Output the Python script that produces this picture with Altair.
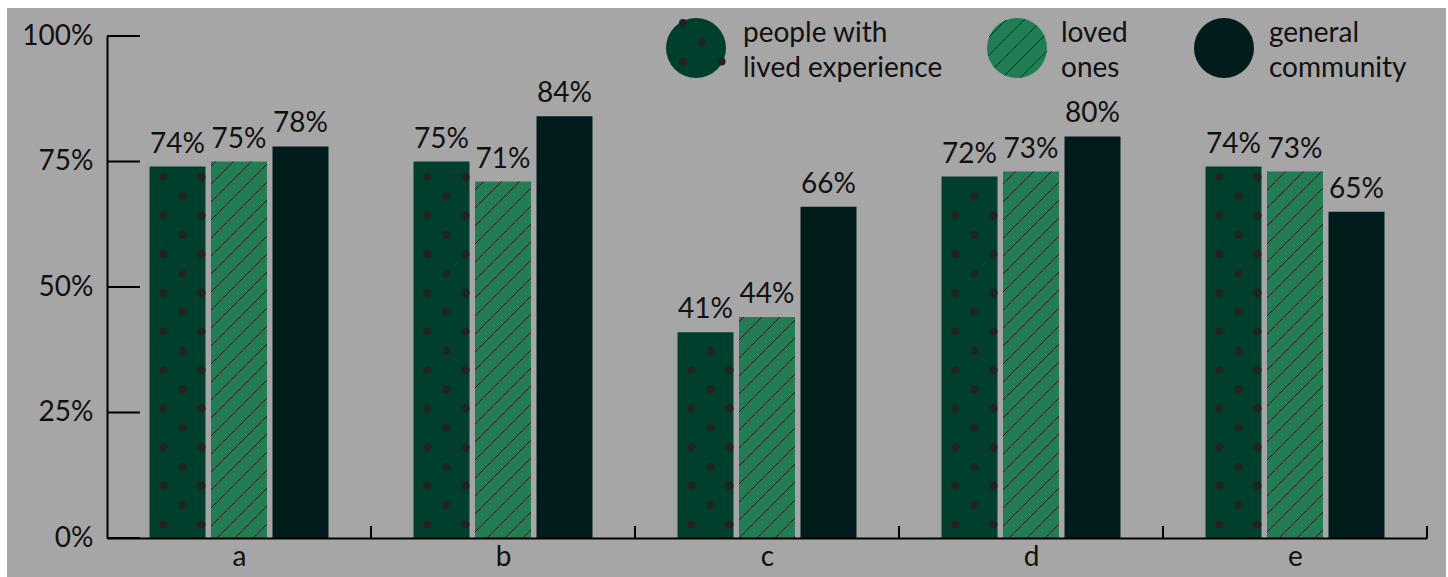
import json
import math

import altair as alt
import pandas as pd

# ---- data -------------------------------------------------------------
categories = ["a", "b", "c", "d", "e"]
series = ["people with lived experience", "loved ones", "general community"]
legend_lines = [["people with", "lived experience"], ["loved", "ones"], ["general", "community"]]
lived = [0.74, 0.75, 0.41, 0.72, 0.74]
loved = [0.75, 0.71, 0.44, 0.73, 0.73]
community = [0.78, 0.84, 0.66, 0.80, 0.65]
y_ticks = [0, 0.25, 0.5, 0.75, 1.0]

# ---- layout / style ---------------------------------------------------
W, H = 1320, 502
LEFT, TOP = 107, 36
PX_X = W / len(categories)          # pixels per category slot
PX_Y = H                            # pixels per unit of share
BAR_W = 56 / PX_X
BAR_STEP = 61.5 / PX_X
COLORS = ["#003F2D", "#227D55", "#011C1A"]
BG = "#A6A6A6"
INK = "#111111"
DOT = "#222222"
FONT = "Lato"
FS = 28
HATCH_GAP = 18                      # vertical distance between hatch lines (px)
DOT_ROW = 19.3                      # dot grid pitch (px)

x_scale = alt.Scale(domain=[0, len(categories)], nice=False, zero=False)
y_scale = alt.Scale(domain=[0, 1], nice=False, zero=False)


def to_x(px):
    """plot-relative pixel column -> x data units"""
    return px / PX_X


def to_y(py):
    """plot-relative pixel row -> y data units"""
    return 1 - py / PX_Y


# ---- bars -------------------------------------------------------------
rows = []
for i, cat in enumerate(categories):
    for s, vals in enumerate([lived, loved, community]):
        c = i + 0.5 + (s - 1) * BAR_STEP
        rows.append(dict(cat=cat, series=series[s], s=s, value=vals[i],
                         x0=c - BAR_W / 2, x1=c + BAR_W / 2, xc=c,
                         label=f"{round(vals[i] * 100)}%"))
bars = pd.DataFrame(rows)

# diagonal hatching for the "loved ones" bars, clipped to each bar
hatch = []
for r in rows:
    if r["s"] != 1:
        continue
    xl, xr = r["x0"] * PX_X, r["x1"] * PX_X
    yt, yb = (1 - r["value"]) * PX_Y, PX_Y
    c = math.ceil((xl + yt) / HATCH_GAP) * HATCH_GAP
    while c < xr + yb:
        a = max(xl, c - yb)
        b = min(xr, c - yt)
        if b > a:
            hatch.append(dict(xa=to_x(a), ya=to_y(c - a), xb=to_x(b), yb=to_y(c - b)))
        c += HATCH_GAP

# staggered dot pattern for the "people with lived experience" bars
dots = []
for r in rows:
    if r["s"] != 0:
        continue
    xl = r["x0"] * PX_X
    yt = (1 - r["value"]) * PX_Y
    for j in range(-10, 30):
        y = 141 + DOT_ROW * j
        if yt + 3 < y < PX_Y - 3:
            cols = [14, 52] if j % 2 == 0 else [33]
            for col in cols:
                dots.append(dict(dx=to_x(xl + col), dy=to_y(y)))

# ---- legend (top right) -----------------------------------------------
centers = [(696, 48), (1017, 48), (1224, 48)]
R = 30
text_x = [743, 1061, 1269]
leg_sym = pd.DataFrame([dict(dx=to_x(cx - LEFT), dy=to_y(cy - TOP), series=series[k])
                        for k, (cx, cy) in enumerate(centers)])
leg_text = pd.DataFrame([dict(dx=to_x(text_x[k] - LEFT), dy=to_y(base - TOP), txt=line)
                         for k in range(3)
                         for line, base in zip(legend_lines[k], [41.7, 76.7])])

cx, cy = centers[0]
for j in range(-2, 3):
    y = 23 + DOT_ROW * j
    cols = [683 - 38.6, 683, 683 + 38.6] if j % 2 == 0 else [702.3 - 38.6, 702.3, 702.3 + 38.6]
    for x in cols:
        if math.hypot(x - cx, y - cy) < R:
            dots.append(dict(dx=to_x(x - LEFT), dy=to_y(y - TOP)))

cx, cy = centers[1]
c = math.ceil((cx + cy - R * 1.5) / HATCH_GAP) * HATCH_GAP
while c < cx + cy + R * 1.5:
    d = (c - cx - cy) / math.sqrt(2)
    if abs(d) < R:
        h = math.sqrt(R * R - d * d) / math.sqrt(2)
        fx, fy = cx + (c - cx - cy) / 2, cy + (c - cx - cy) / 2
        hatch.append(dict(xa=to_x(fx - h - LEFT), ya=to_y(fy + h - TOP),
                          xb=to_x(fx + h - LEFT), yb=to_y(fy - h - TOP)))
    c += HATCH_GAP

hatch = pd.DataFrame(hatch)
dots = pd.DataFrame(dots)

# ---- chart layers -----------------------------------------------------
background = alt.Chart(pd.DataFrame({"k": [0]})).mark_rect(color=BG).encode(
    x=alt.value(7 - LEFT), x2=alt.value(1446 - LEFT),
    y=alt.value(8 - TOP), y2=alt.value(577 - TOP),
)

label_expr = f"{json.dumps(categories)}[floor(datum.value)]"

bar_layer = alt.Chart(bars).mark_rect().encode(
    x=alt.X("x0:Q", scale=x_scale, title=None,
            axis=alt.Axis(values=[i + 0.5 for i in range(len(categories))],
                          labelExpr=label_expr, ticks=False, grid=False,
                          domainColor="black", domainWidth=2, zindex=1,
                          labelFont=FONT, labelFontSize=FS, labelColor=INK,
                          labelPadding=5)),
    x2="x1:Q",
    y=alt.Y("value:Q", scale=y_scale, title=None,
            axis=alt.Axis(values=y_ticks, format=".0%", ticks=False, grid=False,
                          domainColor="black", domainWidth=2, zindex=1,
                          labelFont=FONT, labelFontSize=FS, labelColor=INK,
                          labelPadding=14)),
    y2=alt.datum(0),
    color=alt.Color("series:N", scale=alt.Scale(domain=series, range=COLORS), legend=None),
)

legend_sym = alt.Chart(leg_sym).mark_point(shape="circle", filled=True, opacity=1, size=3600).encode(
    x=alt.X("dx:Q", scale=x_scale, title=None),
    y=alt.Y("dy:Q", scale=y_scale, title=None),
    color=alt.Color("series:N", scale=alt.Scale(domain=series, range=COLORS), legend=None),
)

dot_layer = alt.Chart(dots).mark_circle(color=DOT, opacity=1, size=64).encode(
    x=alt.X("dx:Q", scale=x_scale, title=None),
    y=alt.Y("dy:Q", scale=y_scale, title=None),
)

hatch_layer = alt.Chart(hatch).mark_rule(color="#1E1E1E", strokeWidth=1).encode(
    x=alt.X("xa:Q", scale=x_scale, title=None),
    y=alt.Y("ya:Q", scale=y_scale, title=None),
    x2="xb:Q", y2="yb:Q",
)

value_labels = alt.Chart(bars).mark_text(
    font=FONT, fontSize=FS, color=INK, baseline="alphabetic", dy=-14
).encode(
    x=alt.X("xc:Q", scale=x_scale, title=None),
    y=alt.Y("value:Q", scale=y_scale, title=None),
    text="label:N",
)

legend_text = alt.Chart(leg_text).mark_text(
    font=FONT, fontSize=FS, color=INK, align="left", baseline="alphabetic"
).encode(
    x=alt.X("dx:Q", scale=x_scale, title=None),
    y=alt.Y("dy:Q", scale=y_scale, title=None),
    text="txt:N",
)

# inward-pointing ticks
y_tick_layer = alt.Chart(pd.DataFrame({"t": y_ticks})).mark_rule(
    color="black", strokeWidth=2
).encode(
    y=alt.Y("t:Q", scale=y_scale, title=None),
    x=alt.value(0), x2=alt.value(33),
)
x_tick_layer = alt.Chart(pd.DataFrame({"t": list(range(1, len(categories) + 1))})).mark_rule(
    color="black", strokeWidth=2
).encode(
    x=alt.X("t:Q", scale=x_scale, title=None),
    y=alt.value(H), y2=alt.value(H - 12),
)

chart = alt.layer(
    background, bar_layer, legend_sym, dot_layer, hatch_layer, value_labels,
    legend_text, y_tick_layer, x_tick_layer,
).properties(
    width=W, height=H,
    autosize=alt.AutoSizeParams(type="none"),
    padding={"left": LEFT, "top": TOP, "right": 1448 - LEFT - W, "bottom": 577 - TOP - H},
    background="white",
).configure_view(stroke=None)

chart.save("out.html", embed_options={"renderer": "svg", "actions": False})
